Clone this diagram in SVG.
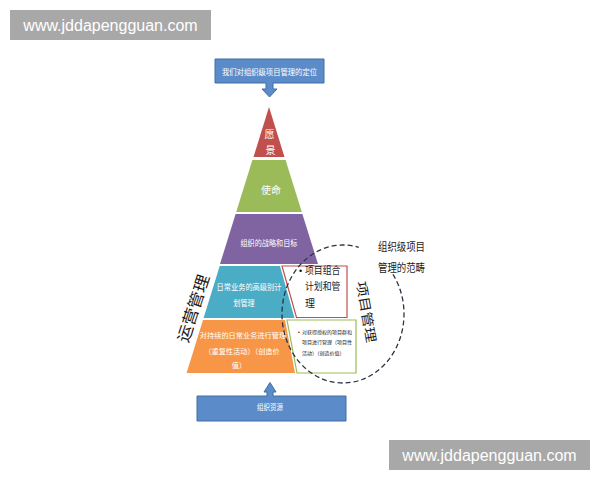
<svg xmlns="http://www.w3.org/2000/svg" width="600" height="480" viewBox="0 0 600 480">
<style>
.cjk{font-family:"Noto Sans CJK SC","Noto Sans CJK JP",sans-serif;}
.lat{font-family:"Liberation Sans",Arial,sans-serif;}
.w{fill:#ffffff;}
.k{fill:#1a1a1a;}
.mid{text-anchor:middle;}
.wm{fill:#a8a8a8;}
.wmt{font-family:"Liberation Sans",Arial,sans-serif;font-size:16px;fill:#ffffff;text-anchor:middle;}
.callout{fill:#5b8cc9;stroke:#3e6ea6;stroke-width:1;}
</style>
<rect width="600" height="480" fill="#ffffff"/>

<g id="watermark-top">
<rect class="wm" x="10" y="10" width="201" height="30"/>
<text class="wmt" x="110.5" y="30.5">www.jddapengguan.com</text>
</g>
<g id="watermark-bottom">
<rect class="wm" x="389" y="440" width="201" height="30"/>
<text class="wmt" x="489.5" y="460.5">www.jddapengguan.com</text>
</g>

<g id="node-positioning">
<path class="callout" d="M215,59 H324 V83 H273 V89 H277 L269.5,97 L262,89 H266 V83 H215 Z"/>
<text class="cjk w mid" x="269.5" y="74.8" font-size="8" textLength="95" lengthAdjust="spacingAndGlyphs">我们对组织级项目管理的定位</text>
</g>

<g id="node-vision">
<polygon points="269,107 284.5,157 253.5,157" fill="#c0504d"/>
<text class="cjk w mid" x="269.5" y="137.5" font-size="10">愿</text>
<text class="cjk w mid" x="270.5" y="154" font-size="10">景</text>
</g>

<g id="node-mission">
<polygon points="252.4,160 285.6,160 301.8,212 236.2,212" fill="#9bbb59"/>
<text class="cjk w mid" x="271" y="193.5" font-size="10">使命</text>
</g>

<g id="node-strategy">
<polygon points="235.6,214 302.4,214 318,264 220,264" fill="#8064a2"/>
<text class="cjk w mid" x="269" y="246.2" font-size="8.5" textLength="57" lengthAdjust="spacingAndGlyphs">组织的战略和目标</text>
</g>

<g id="node-planning">
<polygon points="219.7,266 280,266 294.5,318 203.6,318" fill="#4bacc6"/>
<text class="cjk w mid" x="249" y="290" font-size="8.5" textLength="65" lengthAdjust="spacingAndGlyphs">日常业务的高级别计</text>
<text class="cjk w mid" x="244" y="306" font-size="8.5" textLength="21.5" lengthAdjust="spacingAndGlyphs">划管理</text>
</g>

<g id="node-operations">
<polygon points="203,320 285,320 295,373 186.6,373" fill="#f79646"/>
<text class="cjk w mid" x="243" y="338" font-size="7.2">对持续的日常业务进行管理</text>
<text class="cjk w mid" x="242" y="353.5" font-size="7.2">（重复性活动）（创造价</text>
<text class="cjk w mid" x="239" y="368" font-size="7.2">值）</text>
</g>

<g id="node-portfolio">
<polygon points="282,266 347,266 347,317.5 296.5,317.5" fill="#ffffff" stroke="#c0504d" stroke-width="1.2"/>
<text class="lat k" x="299" y="273.5" font-size="9">•</text>
<text class="cjk k" x="305" y="273.8" font-size="10" textLength="35.5" lengthAdjust="spacingAndGlyphs">项目组合</text>
<text class="cjk k" x="305" y="290.2" font-size="10" textLength="35.5" lengthAdjust="spacingAndGlyphs">计划和管</text>
<text class="cjk k" x="305" y="306.5" font-size="10">理</text>
</g>

<g id="node-programs">
<polygon points="287,320 356,320 356,373 297,373" fill="#ffffff" stroke="#9bbb59" stroke-width="1.2"/>
<text class="cjk k" y="333.8" font-size="5"><tspan class="lat" x="298">•</tspan><tspan x="302">对获得授权的项目群和</tspan></text>
<text class="cjk k" x="302" y="344.4" font-size="5">项目进行管理（项目性</text>
<text class="cjk k" x="302" y="355.4" font-size="5">活动）（创造价值）</text>
</g>

<g id="node-resources">
<path class="callout" d="M197,396 H267 V392 H264 L270,382.5 L276,392 H273 V396 H346 V421 H197 Z"/>
<text class="cjk w mid" x="270" y="410" font-size="8.5" textLength="26" lengthAdjust="spacingAndGlyphs">组织资源</text>
</g>

<g id="connectors">
<path d="M392.97,274.42 A61 69 0 1 1 358.79,247.35" fill="none" stroke="#2b3442" stroke-width="1.3" stroke-dasharray="5 3"/>
</g>

<g id="label-operations-mgmt">
<text class="cjk k mid" transform="translate(193.5,308.5) rotate(-72)" y="5.5" font-size="16" textLength="70" lengthAdjust="spacingAndGlyphs">运营管理</text>
</g>
<g id="label-project-mgmt">
<text class="cjk k mid" transform="translate(366,312) rotate(80)" y="4.5" font-size="13" textLength="62" lengthAdjust="spacingAndGlyphs">项目管理</text>
</g>
<g id="label-scope">
<text class="cjk k mid" x="401.5" y="251.2" font-size="11.5" textLength="47" lengthAdjust="spacingAndGlyphs">组织级项目</text>
<text class="cjk k mid" x="401.5" y="271.5" font-size="11.5" textLength="47" lengthAdjust="spacingAndGlyphs">管理的范畴</text>
</g>
</svg>
